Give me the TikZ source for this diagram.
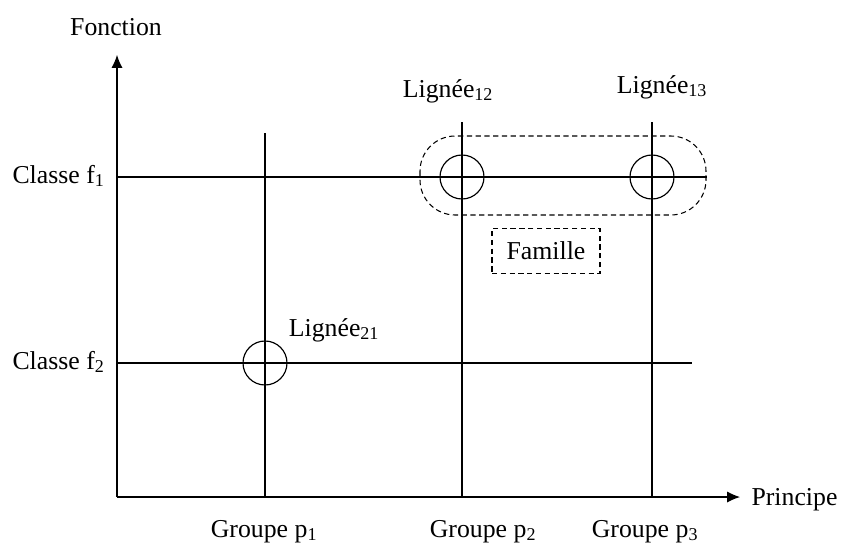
\documentclass[tikz,border=0pt]{standalone}
\usepackage{fontspec}
\setmainfont{Liberation Serif}
\usetikzlibrary{arrows.meta}
\tikzset{
  lignee/.style={circle,draw,minimum size=44*0.03cm,inner sep=0pt},
  tirets/.style={dash pattern=on 4.5pt off 3pt},
  lbl/.style={inner sep=0pt}
}
\begin{document}
\begin{tikzpicture}[x=0.03cm,y=-0.03cm,line width=0.9pt,>={Latex[length=11pt,width=9.5pt]},font=\fontsize{22}{26}\selectfont]
\useasboundingbox (0,0) rectangle (843,552);
% axes
\coordinate (O) at (117,497);
\coordinate (ytip) at (117,55);
\coordinate (xtip) at (740,497);
\draw[->] (O)--(ytip);
\draw[->] (O)--(xtip);
\node[lbl,anchor=base] (fonction) at (116,35) {Fonction};
\node[lbl,anchor=base west] (principe) at (751,505) {Principe};
% classes
\coordinate (f1) at (117,177);
\coordinate (f1e) at (707,177);
\coordinate (f2) at (117,363);
\coordinate (f2e) at (692,363);
\draw (f1)--(f1e);
\draw (f2)--(f2e);
\node[lbl,anchor=base east] (classe1) at (105,183) {Classe f\textsubscript{1}};
\node[lbl,anchor=base east] (classe2) at (105,369) {Classe f\textsubscript{2}};
% groupes
\coordinate (p1) at (265,497);
\coordinate (p1t) at (265,133);
\coordinate (p2) at (462,497);
\coordinate (p2t) at (462,122);
\coordinate (p3) at (652,497);
\coordinate (p3t) at (652,122);
\draw (p1)--(p1t);
\draw (p2)--(p2t);
\draw (p3)--(p3t);
\node[lbl,anchor=base] (groupe1) at (264,537) {Groupe p\textsubscript{1}};
\node[lbl,anchor=base] (groupe2) at (483,537) {Groupe p\textsubscript{2}};
\node[lbl,anchor=base] (groupe3) at (645,537) {Groupe p\textsubscript{3}};
% lignees
\node[lignee,line width=1pt] (l12) at (462,177) {};
\node[lignee,line width=1pt] (l13) at (652,177) {};
\node[lignee,line width=1pt] (l21) at (265,363) {};
\node[lbl,anchor=base] (t12) at (448,97) {Lignée\textsubscript{12}};
\node[lbl,anchor=base] (t13) at (662,93) {Lignée\textsubscript{13}};
\node[lbl,anchor=base] (t21) at (334,336) {Lignée\textsubscript{21}};
% famille
\draw[tirets,rounded corners=30pt] (420,136) rectangle (706,215);
\node[draw,tirets,minimum width=108*0.03cm,minimum height=45*0.03cm,inner sep=0pt] (famille) at (546,251) {Famille};
\end{tikzpicture}
\end{document}
